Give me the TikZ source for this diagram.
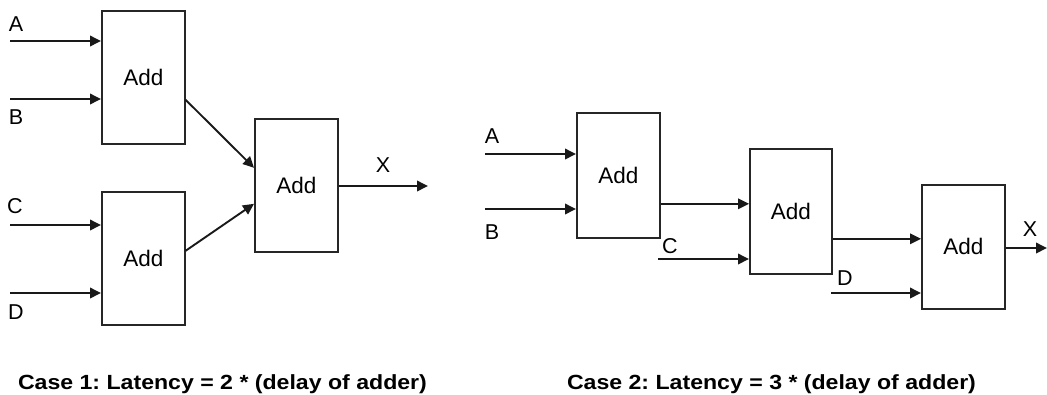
\documentclass[tikz,border=0pt]{standalone}
\usepackage{fontspec}
\usepackage{graphicx}
\setmainfont{Liberation Sans}
\usetikzlibrary{arrows.meta,calc}
\tikzset{
  adder/.style={rectangle, draw=black!85, line width=1.6pt, inner sep=0pt,
                minimum width=83pt, minimum height=133pt,
                font=\fontsize{22.5}{24}\selectfont},
  radder/.style={adder, minimum height=125pt},
  ar/.style={-{Triangle[length=11pt,width=10.5pt]}, draw=black!90, line width=1.9pt},
  sig/.style={inner sep=0pt, font=\fontsize{21.5}{24}\selectfont},
  capt/.style={inner sep=0pt, anchor=base, font=\fontsize{20.5}{24}\selectfont\bfseries},
}
\frenchspacing
\newcommand{\widecap}[1]{\scalebox{1.127}[1]{#1}}

\begin{document}
\begin{tikzpicture}[x=1pt,y=-1pt]
\useasboundingbox (0,0) rectangle (1047,394);

% case 1: tree of adders
\node[adder,anchor=north west] (sum1) at (101,10) {Add};
\node[adder,anchor=north west] (sum2) at (101,191) {Add};
\node[adder,anchor=north west] (sum3) at (254,118) {Add};

\node[sig] (lA) at (16,24) {A};
\node[sig] (lB) at (16,117) {B};
\node[sig] (lC) at (15,206) {C};
\node[sig] (lD) at (16,312) {D};
\node[sig] (lX) at (383,165) {X};

\coordinate (inA) at (10,41);
\coordinate (inB) at (10,99);
\coordinate (inC) at (10,225);
\coordinate (inD) at (10,293);
\coordinate (outX) at (428,186);

\draw[ar] (inA) -- (inA -| sum1.west);
\draw[ar] (inB) -- (inB -| sum1.west);
\draw[ar] (inC) -- (inC -| sum2.west);
\draw[ar] (inD) -- (inD -| sum2.west);
% into the last adder
\draw[ar] ($(sum1.east)+(0,22.5)$) -- ($(sum3.west)+(0,-17.5)$);
\draw[ar] ($(sum2.east)+(0,-7.5)$) -- ($(sum3.west)+(0,18.5)$);
\draw[ar] (outX -| sum3.east) -- (outX);

% case 2: chain of adders
\node[radder,anchor=north west] (chn1) at (576,112) {Add};
\node[radder,anchor=north west,minimum width=82pt] (chn2) at (749,148) {Add};
\node[radder,anchor=north west,minimum height=124pt] (chn3) at (921,184) {Add};

\node[sig] (rA) at (492,136) {A};
\node[sig] (rB) at (492,232) {B};
\node[sig] (rC) at (670,246) {C};
\node[sig] (rD) at (845,278) {D};
\node[sig] (rX) at (1030,229) {X};

\coordinate (jA) at (485,154);
\coordinate (jB) at (485,209);
\coordinate (jC) at (658,259);
\coordinate (jD) at (831,293);
\coordinate (jX) at (1047,248);
\coordinate (j12) at ($(chn1.east)+(0,28.5)$);
\coordinate (j23) at ($(chn2.east)+(0,27.5)$);

\draw[ar] (jA) -- (jA -| chn1.west);
\draw[ar] (jB) -- (jB -| chn1.west);
\draw[ar] (j12) -- (j12 -| chn2.west);
\draw[ar] (jC) -- (jC -| chn2.west);
\draw[ar] (j23) -- (j23 -| chn3.west);
\draw[ar] (jD) -- (jD -| chn3.west);
\draw[ar] (jX -| chn3.east) -- (jX);

% captions
\node[capt] (cap1) at (222.5,389) {\widecap{Case 1: Latency = 2 * (delay of adder)}};
\node[capt] (cap2) at (771.5,389) {\widecap{Case 2: Latency = 3 * (delay of adder)}};
\end{tikzpicture}
\end{document}
